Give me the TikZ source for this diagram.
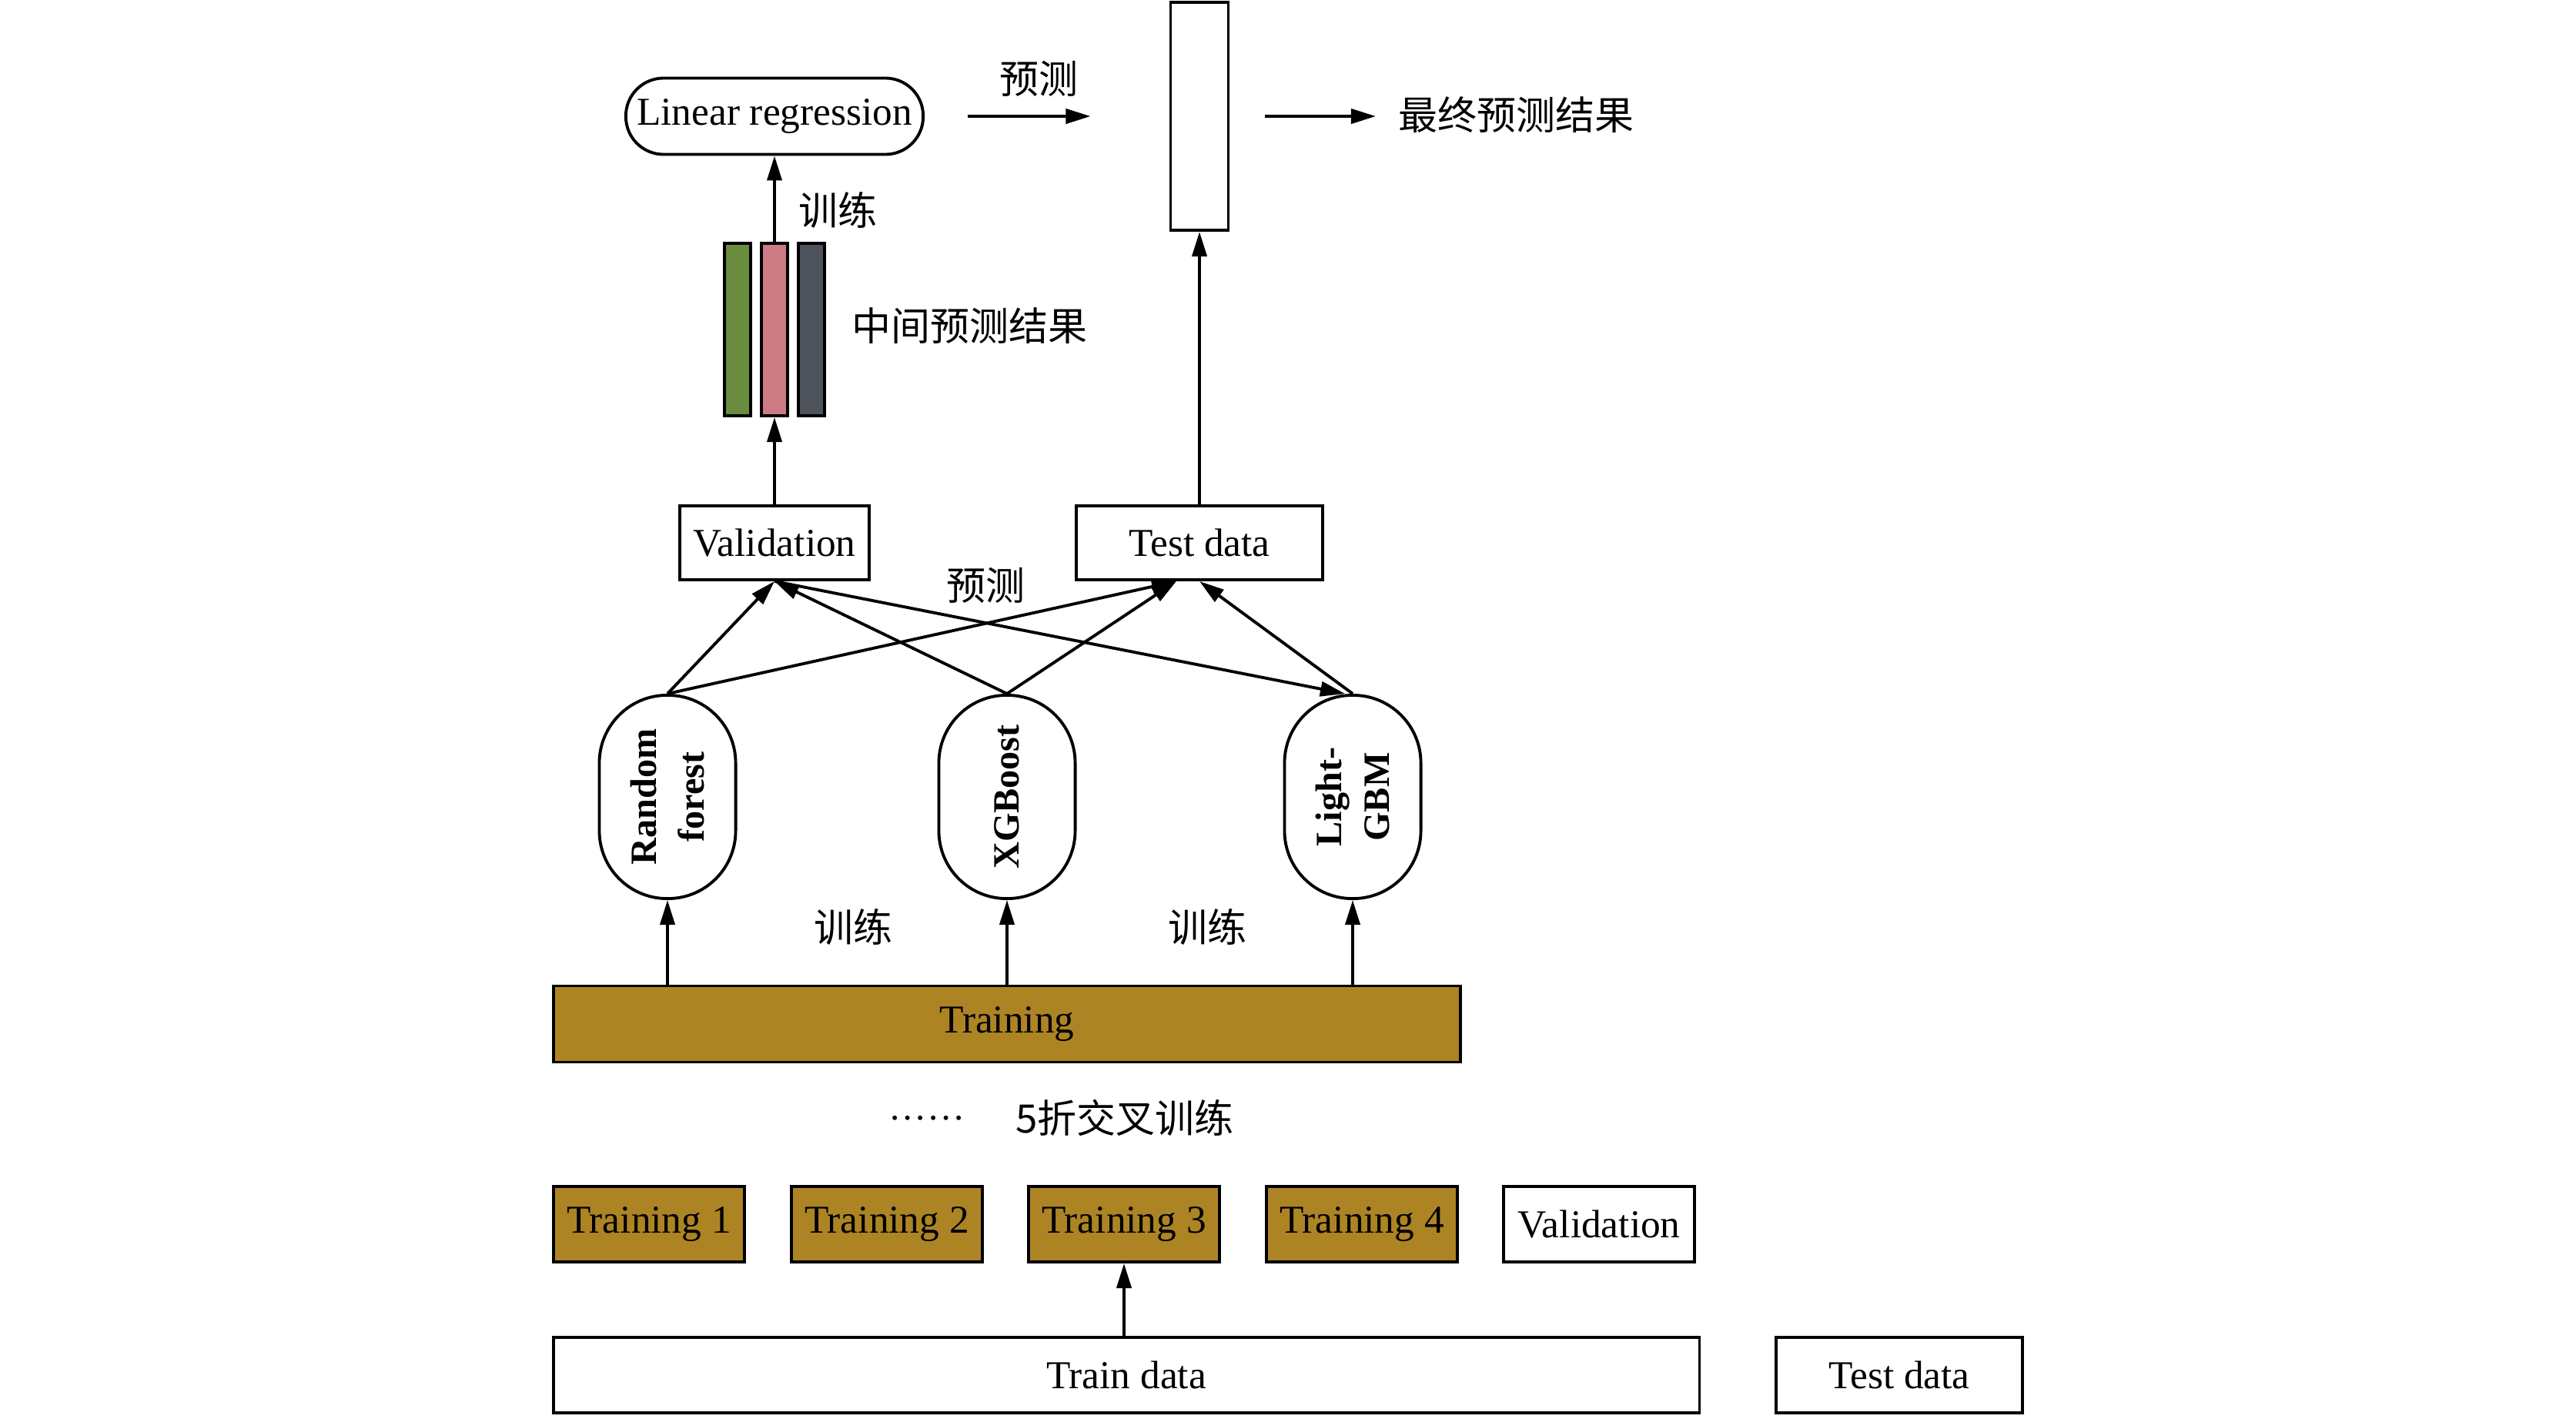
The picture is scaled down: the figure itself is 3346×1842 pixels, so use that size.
\documentclass[tikz,border=0pt]{standalone}
\usepackage{fontspec}
\setmainfont{Liberation Serif}
\newfontfamily\cjk{Noto Sans CJK SC}
\usetikzlibrary{arrows.meta}

\definecolor{gold}{RGB}{173,132,36}
\definecolor{barg}{RGB}{106,140,63}
\definecolor{barp}{RGB}{204,123,132}
\definecolor{bard}{RGB}{79,83,91}

\tikzset{
  box/.style={draw, line width=1.1pt, inner sep=0pt, font=\fontsize{14.6}{16}\selectfont},
  goldbox/.style={box, fill=gold},
  pill/.style={box, rounded corners=0.88cm, minimum width=2.64cm, minimum height=1.77cm,
     rotate=90, align=center, font=\fontsize{13.7}{17.5}\selectfont\bfseries},
  bar/.style={draw, line width=1.1pt, minimum width=0.34cm, minimum height=2.24cm, inner sep=0pt},
  lbl/.style={font=\fontsize{14.5}{16}\selectfont\cjk, inner sep=1pt},
  arr/.style={line width=1.1pt, -{Triangle[length=0.32cm,width=0.19cm]}},
}

\begin{document}
\begin{tikzpicture}[x=0.01cm,y=-0.01cm]
\useasboundingbox (0,0) rectangle (3346,1842);

% top: stacking
\node[box, rounded corners=0.49cm, minimum width=3.86cm, minimum height=0.99cm] (lr) at (1006,151) {Linear regression};
\node[box, minimum width=0.75cm, minimum height=2.96cm] (out) at (1558,151) {};
\node[lbl, anchor=west] (final) at (1812,149) {最终预测结果};
\node[lbl] (pred1) at (1349,102) {预测};

\node[bar, fill=barg] (bg) at (958,428) {};
\node[bar, fill=barp] (bp) at (1006,428) {};
\node[bar, fill=bard] (bd) at (1054,428) {};
\node[lbl] (mid) at (1259,423) {中间预测结果};
\node[lbl] (tr1) at (1088,273) {训练};

\draw[arr] ([xshift=0.56cm]lr.east) -- ([xshift=-1.02cm]out.west);
\draw[arr] ([xshift=0.45cm]out.east) -- ([xshift=-0.25cm]final.west |- out.east);
\draw[arr] (bp.north) -- (lr.south);

% level 1
\node[box, minimum width=2.46cm, minimum height=0.96cm] (val) at (1006,705) {Validation};
\node[box, minimum width=3.20cm, minimum height=0.96cm] (test) at (1558,705) {Test data};
\node[lbl] (pred2) at (1280,760) {预测};

\draw[arr] (val.north) -- (bp.south);
\draw[arr] (test.north) -- (out.south);

\node[pill] (rf) at (867,1035) {Random\\forest};
\node[pill] (xgb) at (1308,1035) {XGBoost};
\node[pill] (lgbm) at (1757,1035) {Light-\\GBM};

\draw[arr] (rf.east) -- (val.south);
\draw[arr] (rf.east) -- ([xshift=-0.3cm]test.south);
\draw[arr] (xgb.east) -- (val.south);
\draw[arr] (xgb.east) -- ([xshift=-0.3cm]test.south);
\draw[arr] (lgbm.east) -- (test.south);
\draw[arr] (val.south) -- ([xshift=-0.1cm]lgbm.east);

\node[goldbox, minimum width=11.78cm, minimum height=0.99cm] (train) at (1308,1330) {Training};
\node[lbl] (tr2) at (1108,1204) {训练};
\node[lbl] (tr3) at (1568,1204) {训练};

\foreach \m in {rf,xgb,lgbm}
  \draw[arr] (\m.west |- train.north) -- (\m.west);

% 5-fold split
\node[lbl, font=\fontsize{14}{16}\selectfont] (dots) at (1204,1452) {……};
\node[lbl] (fold) at (1461,1452) {5折交叉训练};

\foreach \i/\x in {1/843,2/1152,3/1460,4/1769}
  \node[goldbox, minimum width=2.48cm, minimum height=0.98cm] (t\i) at (\x,1590) {Training \i};
\node[box, minimum width=2.48cm, minimum height=0.98cm] (v5) at (2077,1590) {Validation};

\node[box, minimum width=14.88cm, minimum height=0.98cm] (traindata) at (1463,1786) {Train data};
\node[box, minimum width=3.20cm, minimum height=0.98cm] (testdata) at (2467,1786) {Test data};

\draw[arr] (t3.south |- traindata.north) -- (t3.south);

\end{tikzpicture}
\end{document}
